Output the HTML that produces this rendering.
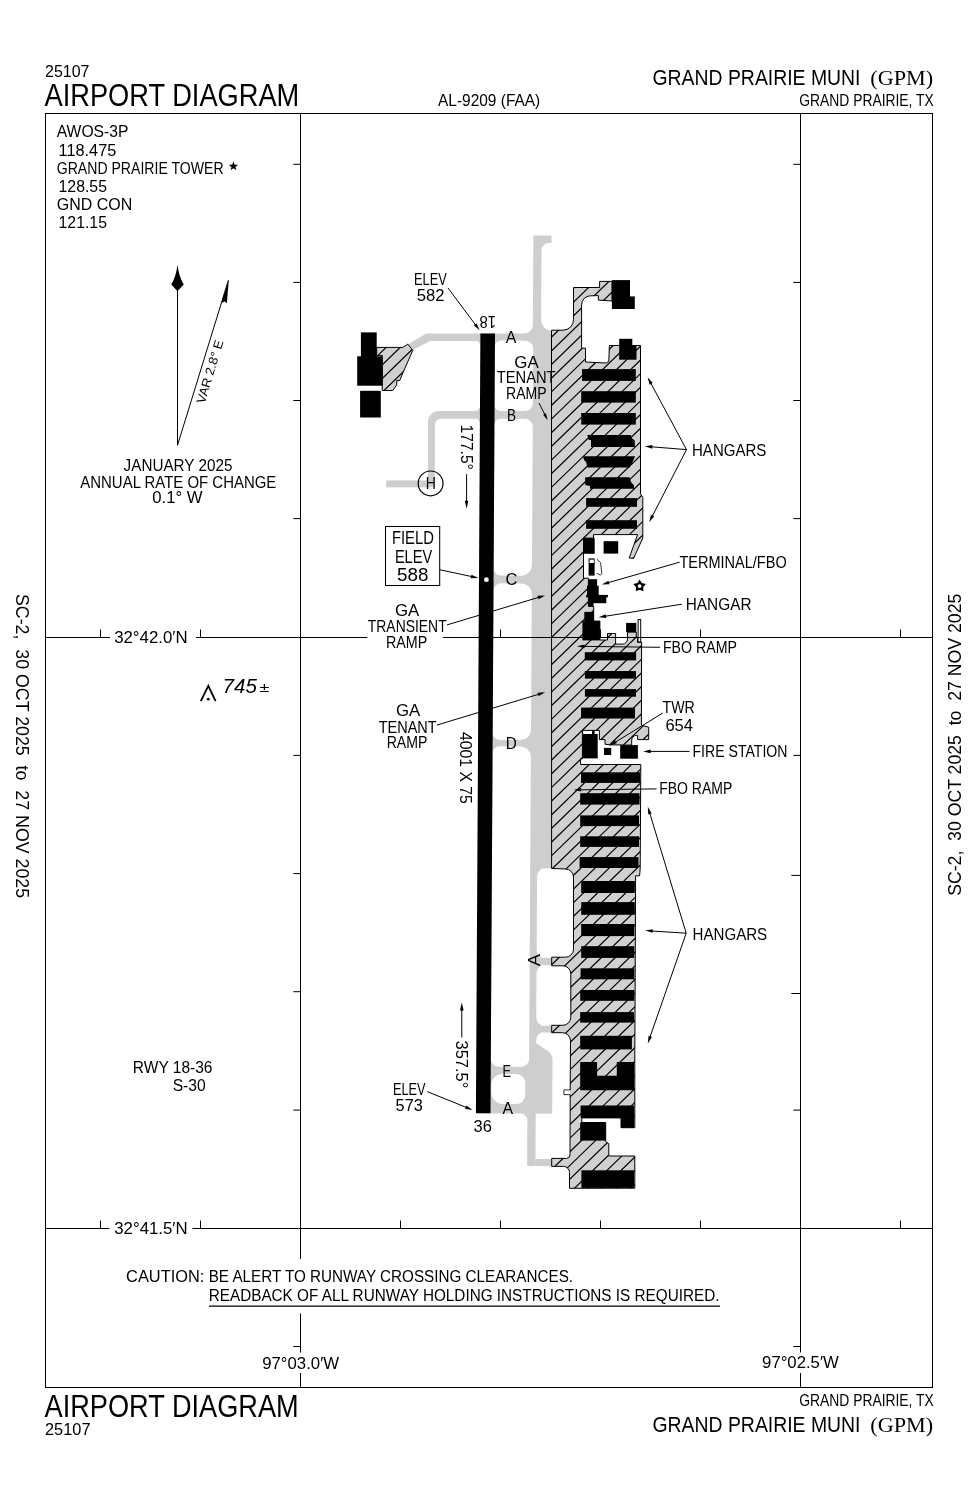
<!DOCTYPE html>
<html><head><meta charset="utf-8"><title>GRAND PRAIRIE MUNI (GPM) Airport Diagram</title>
<style>
html,body{margin:0;padding:0;background:#fff;}
body{width:978px;height:1500px;overflow:hidden;font-family:"Liberation Sans",sans-serif;}
svg{display:block;will-change:transform;}
svg text{font-family:"Liberation Sans",sans-serif;fill:#000;}
</style></head><body>
<svg width="978" height="1500" viewBox="0 0 978 1500">
<rect x="0" y="0" width="978" height="1500" fill="#fff"/>
<g id="twy">
<path d="M482,333.4 L426.2,333.4 L408.6,344.1 L413.2,350.1 L430.0,340.9 L482,340.9 Z" fill="#cecece"/>
<path d="M481,340.7 L475.2,340.7 A5.2,5.2 0 0 1 480.4,345.9 L481,345.9 Z" fill="#cecece"/>
<path d="M482,411 L439,411 A11,11 0 0 0 428,422 L428,487.3 L434.9,487.3 L434.9,424.7 A6,6 0 0 1 440.9,418.7 L482,418.7 Z" fill="#cecece"/>
<path d="M481,418.5 L474.8,418.5 A5.2,5.2 0 0 1 480,423.7 L481,423.7 Z" fill="#cecece"/>
<path d="M481,411.2 L481,405.8 L480,405.8 A5.2,5.2 0 0 1 474.8,411 L474.8,411.2 Z" fill="#cecece"/>
<rect x="386.20" y="480.40" width="43.80" height="6.90" fill="#cecece"/>
<path d="M484,333.6 L551.5,333.6 L551.5,868.4 L541,868.4 L541,1113.4 L484,1113.4 Z" fill="#cecece"/>
<g transform="rotate(0.33 495 333.5)">
<path d="M532.8,235.3 L551,235.3 L551,242.8 L548.2,242.8 A7.2,7.2 0 0 0 541.0,250 L541.0,319.5 A11.2,11.2 0 0 0 552.2,330.4 L553,330.4 L553,336 L532.8,336 Z" fill="#cecece"/>
<path d="M533.2,334 L533.2,323.2 A10.6,10.6 0 0 1 522.6,333.8 L522.6,334 Z" fill="#cecece"/>
<path d="M500.90,340.50 L525.30,340.50 A8,8 0 0 1 533.30,348.50 L533.30,402.90 A8,8 0 0 1 525.30,410.90 L500.90,410.90 A6,6 0 0 1 494.90,404.90 L494.90,346.50 A6,6 0 0 1 500.90,340.50 Z" fill="#fff"/>
<path d="M500.90,418.70 L525.30,418.70 A8,8 0 0 1 533.30,426.70 L533.30,565.00 A10.5,10.5 0 0 1 522.80,575.50 L502.40,575.50 A7.5,7.5 0 0 1 494.90,568.00 L494.90,424.70 A6,6 0 0 1 500.90,418.70 Z" fill="#fff"/>
<path d="M502.40,583.30 L522.80,583.30 A10.5,10.5 0 0 1 533.30,593.80 L533.30,729.40 A10.5,10.5 0 0 1 522.80,739.90 L501.90,739.90 A7,7 0 0 1 494.90,732.90 L494.90,590.80 A7.5,7.5 0 0 1 502.40,583.30 Z" fill="#fff"/>
<path d="M501.90,746.30 L522.80,746.30 A10.5,10.5 0 0 1 533.30,756.80 L533.30,1058.70 A8,8 0 0 1 525.30,1066.70 L502.90,1066.70 A8,8 0 0 1 494.90,1058.70 L494.90,753.30 A7,7 0 0 1 501.90,746.30 Z" fill="#fff"/>
<path d="M506.60,1073.90 L520.60,1073.90 A9,9 0 0 1 529.60,1082.90 L529.60,1094.90 A9,9 0 0 1 520.60,1103.90 L507.60,1103.90 A12,12 0 0 1 495.60,1091.90 L495.60,1084.90 A11,11 0 0 1 506.60,1073.90 Z" fill="#fff"/>
<path d="M547.70,868.40 L578.00,868.40 A0,0 0 0 1 578.00,868.40 L578.00,957.40 A0,0 0 0 1 578.00,957.40 L548.20,957.40 A8,8 0 0 1 540.20,949.40 L540.20,875.90 A7.5,7.5 0 0 1 547.70,868.40 Z" fill="#fff"/>
<path d="M548.20,965.00 L575.00,965.00 A0,0 0 0 1 575.00,965.00 L575.00,1025.40 A0,0 0 0 1 575.00,1025.40 L548.20,1025.40 A8,8 0 0 1 540.20,1017.40 L540.20,973.00 A8,8 0 0 1 548.20,965.00 Z" fill="#fff"/>
<path d="M548.20,1032.00 L575.00,1032.00 A0,0 0 0 1 575.00,1032.00 L575.00,1158.60 A0,0 0 0 1 575.00,1158.60 L547.20,1158.60 A7,7 0 0 1 540.20,1151.60 L540.20,1040.00 A8,8 0 0 1 548.20,1032.00 Z" fill="#fff"/>
<path d="M531.9,1110 L540.2,1110 L540.2,1165.8 L531.9,1165.8 Z" fill="#cecece"/>
<path d="M539.4,1042.4 L550,1049.5 Q556.7,1053 556.7,1059.5 L556.7,1113.4 L539.4,1113.4 Z" fill="#cecece"/>
<path d="M524,1113.2 L532.2,1113.2 L532.2,1121 A8,8 0 0 0 524,1113.2 Z" fill="#cecece"/>
<rect x="540.00" y="957.60" width="16.50" height="7.40" fill="#cecece"/>
<rect x="540.00" y="1025.40" width="16.80" height="6.80" fill="#cecece"/>
<rect x="540.00" y="1158.70" width="17.60" height="7.10" fill="#cecece"/>
</g>
</g>
<defs>
<clipPath id="rampclip"><path d="M551.5,330.2 L563,330.2 A10.5,10.5 0 0 0 573.5,319.7 L573.5,287.5 L599.6,287.5 L599.6,281.4 L612,281.4 L612,301 L598.4,300.1 L598.4,295.6 L590.6,295.8 A9,9 0 0 0 581.6,304.8 L581.6,348.2 L585.5,348.2 L585.5,362 L606.3,363 L608.8,361.4 L609.4,345.5 L640.5,345.5 L640.5,493.8 L642.8,497.5 L642.8,538 L633.6,558.4 L629.2,558 L637.6,534.6 L593.5,534.6 L593.5,538.1 L583.5,538.1 L583.5,578.2 L588.4,578.2 L588.4,606.4 L593.7,606.4 L593.7,621.1 L599.9,621.1 L599.9,640 L607.5,640 L607.5,633.5 L615.6,633.5 L615.6,644.1 L622.5,644.1 A5,5 0 0 0 627.5,639.1 L627.5,632.1 L636.3,632.1 L636.3,637.2 L637.6,637.2 L637.6,642.3 L641.6,642.3 L641.4,725.2 L648.7,727.2 L648.7,739.6 L637.6,739.6 L637.6,735.4 L636.4,735.4 A4.7,4.7 0 0 0 631.7,740.1 L631.7,745.1 L609.6,744.8 L605,744.2 L605,739.6 L599.4,739.6 L599.4,730.4 L582.4,730.4 L582.4,758.9 L580.6,758.9 L580.6,764.5 L640.8,764.5 L640.2,868 L639.6,875.8 L635.6,875.8 L634.9,1035 L634.8,1049.5 L634.8,1127.7 L621,1127.7 L621,1117.9 L581.8,1117.9 L581.8,1122.5 L605.7,1122.5 L605.7,1141.5 L608.8,1143.7 L608.8,1156 L634.8,1156 L634.8,1188.2 L569.5,1188.3 L569.5,1172.4 A6,6 0 0 0 563.5,1166.4 L551.7,1166.4 L551.7,1158.4 L566.5,1158.4 A3.5,3.5 0 0 0 570,1154.9 L570.2,1094.6 L564,1094.6 L564,1090 L570.2,1090 L570.5,1040.7 A8,8 0 0 0 562.5,1032.7 L551.7,1032.7 L551.7,1025.3 L562.8,1025.3 A8,8 0 0 0 570.8,1017.3 L570.8,973.8 A8,8 0 0 0 562.8,965.8 L551.7,965.8 L551.7,957.2 L565.5,957.2 A8,8 0 0 0 573.5,949.2 L573.5,877 A8,8 0 0 0 565.5,869 L551.6,868.4 Z"/><path d="M376.7,347.4 L402.9,347.4 L407.8,344.1 L412.8,350.3 L402.9,372.9 L399.7,380.5 L396.7,380.5 L396.7,384.8 L392.8,390.5 L382.2,390.5 L382.2,355.4 L376.7,355.8 Z"/></clipPath>
</defs>
<g id="ramp">
<path d="M551.5,330.2 L563,330.2 A10.5,10.5 0 0 0 573.5,319.7 L573.5,287.5 L599.6,287.5 L599.6,281.4 L612,281.4 L612,301 L598.4,300.1 L598.4,295.6 L590.6,295.8 A9,9 0 0 0 581.6,304.8 L581.6,348.2 L585.5,348.2 L585.5,362 L606.3,363 L608.8,361.4 L609.4,345.5 L640.5,345.5 L640.5,493.8 L642.8,497.5 L642.8,538 L633.6,558.4 L629.2,558 L637.6,534.6 L593.5,534.6 L593.5,538.1 L583.5,538.1 L583.5,578.2 L588.4,578.2 L588.4,606.4 L593.7,606.4 L593.7,621.1 L599.9,621.1 L599.9,640 L607.5,640 L607.5,633.5 L615.6,633.5 L615.6,644.1 L622.5,644.1 A5,5 0 0 0 627.5,639.1 L627.5,632.1 L636.3,632.1 L636.3,637.2 L637.6,637.2 L637.6,642.3 L641.6,642.3 L641.4,725.2 L648.7,727.2 L648.7,739.6 L637.6,739.6 L637.6,735.4 L636.4,735.4 A4.7,4.7 0 0 0 631.7,740.1 L631.7,745.1 L609.6,744.8 L605,744.2 L605,739.6 L599.4,739.6 L599.4,730.4 L582.4,730.4 L582.4,758.9 L580.6,758.9 L580.6,764.5 L640.8,764.5 L640.2,868 L639.6,875.8 L635.6,875.8 L634.9,1035 L634.8,1049.5 L634.8,1127.7 L621,1127.7 L621,1117.9 L581.8,1117.9 L581.8,1122.5 L605.7,1122.5 L605.7,1141.5 L608.8,1143.7 L608.8,1156 L634.8,1156 L634.8,1188.2 L569.5,1188.3 L569.5,1172.4 A6,6 0 0 0 563.5,1166.4 L551.7,1166.4 L551.7,1158.4 L566.5,1158.4 A3.5,3.5 0 0 0 570,1154.9 L570.2,1094.6 L564,1094.6 L564,1090 L570.2,1090 L570.5,1040.7 A8,8 0 0 0 562.5,1032.7 L551.7,1032.7 L551.7,1025.3 L562.8,1025.3 A8,8 0 0 0 570.8,1017.3 L570.8,973.8 A8,8 0 0 0 562.8,965.8 L551.7,965.8 L551.7,957.2 L565.5,957.2 A8,8 0 0 0 573.5,949.2 L573.5,877 A8,8 0 0 0 565.5,869 L551.6,868.4 Z" fill="#d0d0d0"/>
<path d="M376.7,347.4 L402.9,347.4 L407.8,344.1 L412.8,350.3 L402.9,372.9 L399.7,380.5 L396.7,380.5 L396.7,384.8 L392.8,390.5 L382.2,390.5 L382.2,355.4 L376.7,355.8 Z" fill="#d0d0d0"/>
<path d="M370.0,281.22 L660.0,-0.08 M370.0,294.87 L660.0,13.57 M370.0,308.51 L660.0,27.21 M370.0,322.16 L660.0,40.86 M370.0,335.81 L660.0,54.51 M370.0,349.46 L660.0,68.16 M370.0,363.10 L660.0,81.80 M370.0,376.75 L660.0,95.45 M370.0,390.40 L660.0,109.10 M370.0,404.04 L660.0,122.74 M370.0,417.69 L660.0,136.39 M370.0,431.34 L660.0,150.04 M370.0,444.98 L660.0,163.68 M370.0,458.63 L660.0,177.33 M370.0,472.28 L660.0,190.98 M370.0,485.93 L660.0,204.63 M370.0,499.57 L660.0,218.27 M370.0,513.22 L660.0,231.92 M370.0,526.87 L660.0,245.57 M370.0,540.51 L660.0,259.21 M370.0,554.16 L660.0,272.86 M370.0,567.81 L660.0,286.51 M370.0,581.45 L660.0,300.15 M370.0,595.10 L660.0,313.80 M370.0,608.75 L660.0,327.45 M370.0,622.40 L660.0,341.10 M370.0,636.04 L660.0,354.74 M370.0,649.69 L660.0,368.39 M370.0,663.34 L660.0,382.04 M370.0,676.98 L660.0,395.68 M370.0,690.63 L660.0,409.33 M370.0,704.28 L660.0,422.98 M370.0,717.92 L660.0,436.62 M370.0,731.57 L660.0,450.27 M370.0,745.22 L660.0,463.92 M370.0,758.87 L660.0,477.57 M370.0,772.51 L660.0,491.21 M370.0,786.16 L660.0,504.86 M370.0,799.81 L660.0,518.51 M370.0,813.45 L660.0,532.15 M370.0,827.10 L660.0,545.80 M370.0,840.75 L660.0,559.45 M370.0,854.39 L660.0,573.09 M370.0,868.04 L660.0,586.74 M370.0,881.69 L660.0,600.39 M370.0,895.34 L660.0,614.04 M370.0,908.98 L660.0,627.68 M370.0,922.63 L660.0,641.33 M370.0,936.28 L660.0,654.98 M370.0,949.92 L660.0,668.62 M370.0,963.57 L660.0,682.27 M370.0,977.22 L660.0,695.92 M370.0,990.86 L660.0,709.56 M370.0,1004.51 L660.0,723.21 M370.0,1018.16 L660.0,736.86 M370.0,1031.81 L660.0,750.51 M370.0,1045.45 L660.0,764.15 M370.0,1059.10 L660.0,777.80 M370.0,1072.75 L660.0,791.45 M370.0,1086.39 L660.0,805.09 M370.0,1100.04 L660.0,818.74 M370.0,1113.69 L660.0,832.39 M370.0,1127.33 L660.0,846.03 M370.0,1140.98 L660.0,859.68 M370.0,1154.63 L660.0,873.33 M370.0,1168.28 L660.0,886.98 M370.0,1181.92 L660.0,900.62 M370.0,1195.57 L660.0,914.27 M370.0,1209.22 L660.0,927.92 M370.0,1222.86 L660.0,941.56 M370.0,1236.51 L660.0,955.21 M370.0,1250.16 L660.0,968.86 M370.0,1263.80 L660.0,982.50 M370.0,1277.45 L660.0,996.15 M370.0,1291.10 L660.0,1009.80 M370.0,1304.75 L660.0,1023.45 M370.0,1318.39 L660.0,1037.09 M370.0,1332.04 L660.0,1050.74 M370.0,1345.69 L660.0,1064.39 M370.0,1359.33 L660.0,1078.03 M370.0,1372.98 L660.0,1091.68 M370.0,1386.63 L660.0,1105.33 M370.0,1400.27 L660.0,1118.97 M370.0,1413.92 L660.0,1132.62 M370.0,1427.57 L660.0,1146.27 M370.0,1441.22 L660.0,1159.92 M370.0,1454.86 L660.0,1173.56 M370.0,1468.51 L660.0,1187.21" stroke="#000" stroke-width="1.2" fill="none" clip-path="url(#rampclip)"/>
<path d="M551.5,330.2 L563,330.2 A10.5,10.5 0 0 0 573.5,319.7 L573.5,287.5 L599.6,287.5 L599.6,281.4 L612,281.4 L612,301 L598.4,300.1 L598.4,295.6 L590.6,295.8 A9,9 0 0 0 581.6,304.8 L581.6,348.2 L585.5,348.2 L585.5,362 L606.3,363 L608.8,361.4 L609.4,345.5 L640.5,345.5 L640.5,493.8 L642.8,497.5 L642.8,538 L633.6,558.4 L629.2,558 L637.6,534.6 L593.5,534.6 L593.5,538.1 L583.5,538.1 L583.5,578.2 L588.4,578.2 L588.4,606.4 L593.7,606.4 L593.7,621.1 L599.9,621.1 L599.9,640 L607.5,640 L607.5,633.5 L615.6,633.5 L615.6,644.1 L622.5,644.1 A5,5 0 0 0 627.5,639.1 L627.5,632.1 L636.3,632.1 L636.3,637.2 L637.6,637.2 L637.6,642.3 L641.6,642.3 L641.4,725.2 L648.7,727.2 L648.7,739.6 L637.6,739.6 L637.6,735.4 L636.4,735.4 A4.7,4.7 0 0 0 631.7,740.1 L631.7,745.1 L609.6,744.8 L605,744.2 L605,739.6 L599.4,739.6 L599.4,730.4 L582.4,730.4 L582.4,758.9 L580.6,758.9 L580.6,764.5 L640.8,764.5 L640.2,868 L639.6,875.8 L635.6,875.8 L634.9,1035 L634.8,1049.5 L634.8,1127.7 L621,1127.7 L621,1117.9 L581.8,1117.9 L581.8,1122.5 L605.7,1122.5 L605.7,1141.5 L608.8,1143.7 L608.8,1156 L634.8,1156 L634.8,1188.2 L569.5,1188.3 L569.5,1172.4 A6,6 0 0 0 563.5,1166.4 L551.7,1166.4 L551.7,1158.4 L566.5,1158.4 A3.5,3.5 0 0 0 570,1154.9 L570.2,1094.6 L564,1094.6 L564,1090 L570.2,1090 L570.5,1040.7 A8,8 0 0 0 562.5,1032.7 L551.7,1032.7 L551.7,1025.3 L562.8,1025.3 A8,8 0 0 0 570.8,1017.3 L570.8,973.8 A8,8 0 0 0 562.8,965.8 L551.7,965.8 L551.7,957.2 L565.5,957.2 A8,8 0 0 0 573.5,949.2 L573.5,877 A8,8 0 0 0 565.5,869 L551.6,868.4 Z" fill="none" stroke="#000" stroke-width="1" stroke-linejoin="miter"/>
<path d="M376.7,347.4 L402.9,347.4 L407.8,344.1 L412.8,350.3 L402.9,372.9 L399.7,380.5 L396.7,380.5 L396.7,384.8 L392.8,390.5 L382.2,390.5 L382.2,355.4 L376.7,355.8 Z" fill="none" stroke="#000" stroke-width="1" stroke-linejoin="miter"/>
</g>
<g id="bld" fill="#000">
<rect x="360.90" y="332.40" width="15.80" height="24.90"/>
<rect x="357.20" y="356.30" width="25.50" height="29.40"/>
<rect x="360.10" y="390.80" width="20.70" height="26.70"/>
<rect x="611.90" y="280.10" width="18.10" height="17.50"/>
<rect x="611.90" y="296.40" width="22.90" height="12.60"/>
<rect x="619.20" y="338.80" width="13.10" height="7.20"/>
<rect x="619.20" y="345.50" width="17.30" height="14.20"/>
<rect x="582.00" y="369.10" width="53.80" height="11.80"/>
<rect x="581.20" y="391.20" width="54.60" height="11.40"/>
<rect x="581.20" y="413.00" width="54.60" height="11.60"/>
<polygon points="587.30,435.00 630.90,435.00 631.60,438.00 634.80,440.50 634.80,447.00 591.00,447.00 591.00,440.00 588.80,440.00"/>
<polygon points="583.00,456.20 635.20,456.20 632.50,462.00 629.60,467.40 587.60,467.40 586.00,462.00 584.00,460.00"/>
<polygon points="585.20,477.20 629.60,477.20 631.00,482.00 634.00,485.50 634.00,488.70 590.00,488.70 590.00,486.00 585.20,485.00"/>
<rect x="586.10" y="498.10" width="50.90" height="8.70"/>
<rect x="586.10" y="520.20" width="50.90" height="8.60"/>
<rect x="583.30" y="538.10" width="11.40" height="15.70"/>
<rect x="603.60" y="541.20" width="14.60" height="12.40"/>
<rect x="588.40" y="579.20" width="8.70" height="7.60"/>
<rect x="587.00" y="585.70" width="11.70" height="10.20"/>
<rect x="586.10" y="594.90" width="21.80" height="2.50"/>
<rect x="588.40" y="596.70" width="17.90" height="6.50"/>
<rect x="588.40" y="602.50" width="5.10" height="3.90"/>
<rect x="584.30" y="611.90" width="9.60" height="10.10"/>
<rect x="582.40" y="621.10" width="17.50" height="19.30"/>
<rect x="626.10" y="622.90" width="10.20" height="9.20"/>
<rect x="584.80" y="652.20" width="51.30" height="8.20"/>
<rect x="584.90" y="671.00" width="51.10" height="7.60"/>
<rect x="584.90" y="689.10" width="51.10" height="7.60"/>
<rect x="581.00" y="707.60" width="54.00" height="10.90"/>
<rect x="582.40" y="734.00" width="15.30" height="24.40"/>
<rect x="604.00" y="747.90" width="7.20" height="7.10"/>
<rect x="620.20" y="745.10" width="17.70" height="13.60"/>
<rect x="581.00" y="772.30" width="59.00" height="10.60"/>
<rect x="580.20" y="793.20" width="59.30" height="11.40"/>
<rect x="580.20" y="815.40" width="58.80" height="10.70"/>
<rect x="580.20" y="836.30" width="58.80" height="10.60"/>
<rect x="579.60" y="857.10" width="58.90" height="10.90"/>
<rect x="581.20" y="881.00" width="53.60" height="12.00"/>
<rect x="581.20" y="902.10" width="53.60" height="12.70"/>
<rect x="581.20" y="924.00" width="53.10" height="12.10"/>
<rect x="581.20" y="946.20" width="53.10" height="11.70"/>
<rect x="580.60" y="968.30" width="53.70" height="11.00"/>
<rect x="580.20" y="990.00" width="54.10" height="10.80"/>
<rect x="580.20" y="1012.10" width="53.80" height="10.50"/>
<rect x="580.20" y="1035.80" width="51.70" height="13.60"/>
<polygon points="580.20,1062.10 597.10,1062.10 597.10,1075.80 616.80,1075.80 616.80,1062.10 634.00,1062.10 634.00,1090.30 580.20,1090.30"/>
<polygon points="580.60,1105.40 634.00,1105.40 634.00,1127.70 621.00,1127.70 621.00,1117.90 580.60,1117.90"/>
<rect x="580.20" y="1122.50" width="25.50" height="18.10"/>
<rect x="581.40" y="1170.30" width="52.60" height="17.60"/>
</g>
<g id="det">
<rect x="564.5" y="1090.5" width="5.3" height="3.7" fill="#fff"/>
<rect x="638.1" y="619.6" width="2.6" height="22.4" fill="#fff" stroke="#000" stroke-width="1"/>
<rect x="588.6" y="558.4" width="6.0" height="17.2" fill="#000"/>
<rect x="589.6" y="559.6" width="4.2" height="3.4" fill="#fff"/>
<path d="M596.9,559.2 L600.6,562.6 L601.8,573.6 L600.4,575.2 L596.9,573.2" fill="none" stroke="#000" stroke-width="0.8"/>
<rect x="583.2" y="731.0" width="8.8" height="3.0" fill="#fff"/>
<rect x="594.6" y="731.0" width="4.4" height="3.0" fill="#fff"/>
<rect x="592.0" y="731.0" width="2.6" height="3.2" fill="#000"/>
</g>
<g transform="rotate(0.33 495 333.5)">
<rect x="480.4" y="333.5" width="14.6" height="779.8" fill="#000"/>
</g>
<g id="frame">
<rect x="45.5" y="113.5" width="887" height="1274" fill="none" stroke="#000" stroke-width="1"/>
<line x1="300.50" y1="113.50" x2="300.50" y2="1259.00" stroke="#000" stroke-width="1"/>
<line x1="300.50" y1="1313.50" x2="300.50" y2="1352.50" stroke="#000" stroke-width="1"/>
<line x1="300.50" y1="1373.00" x2="300.50" y2="1387.50" stroke="#000" stroke-width="1"/>
<line x1="800.50" y1="113.50" x2="800.50" y2="1352.50" stroke="#000" stroke-width="1"/>
<line x1="800.50" y1="1373.00" x2="800.50" y2="1387.50" stroke="#000" stroke-width="1"/>
<line x1="45.50" y1="637.50" x2="110.00" y2="637.50" stroke="#000" stroke-width="1"/>
<line x1="196.00" y1="637.50" x2="367.30" y2="637.50" stroke="#000" stroke-width="1"/>
<line x1="443.00" y1="637.50" x2="932.50" y2="637.50" stroke="#000" stroke-width="1"/>
<line x1="45.50" y1="1228.50" x2="109.50" y2="1228.50" stroke="#000" stroke-width="1"/>
<line x1="192.50" y1="1228.50" x2="932.50" y2="1228.50" stroke="#000" stroke-width="1"/>
<line x1="293.30" y1="164.30" x2="300.50" y2="164.30" stroke="#000" stroke-width="1"/>
<line x1="293.30" y1="282.40" x2="300.50" y2="282.40" stroke="#000" stroke-width="1"/>
<line x1="293.30" y1="400.50" x2="300.50" y2="400.50" stroke="#000" stroke-width="1"/>
<line x1="293.30" y1="518.60" x2="300.50" y2="518.60" stroke="#000" stroke-width="1"/>
<line x1="293.30" y1="755.40" x2="300.50" y2="755.40" stroke="#000" stroke-width="1"/>
<line x1="293.30" y1="873.60" x2="300.50" y2="873.60" stroke="#000" stroke-width="1"/>
<line x1="293.30" y1="991.70" x2="300.50" y2="991.70" stroke="#000" stroke-width="1"/>
<line x1="293.30" y1="1110.10" x2="300.50" y2="1110.10" stroke="#000" stroke-width="1"/>
<line x1="293.30" y1="1346.50" x2="300.50" y2="1346.50" stroke="#000" stroke-width="1"/>
<line x1="793.30" y1="164.30" x2="800.50" y2="164.30" stroke="#000" stroke-width="1"/>
<line x1="793.30" y1="282.40" x2="800.50" y2="282.40" stroke="#000" stroke-width="1"/>
<line x1="793.30" y1="400.50" x2="800.50" y2="400.50" stroke="#000" stroke-width="1"/>
<line x1="793.30" y1="518.60" x2="800.50" y2="518.60" stroke="#000" stroke-width="1"/>
<line x1="793.30" y1="755.40" x2="800.50" y2="755.40" stroke="#000" stroke-width="1"/>
<line x1="793.30" y1="1110.10" x2="800.50" y2="1110.10" stroke="#000" stroke-width="1"/>
<line x1="793.30" y1="1346.50" x2="800.50" y2="1346.50" stroke="#000" stroke-width="1"/>
<line x1="791.30" y1="875.40" x2="800.50" y2="875.40" stroke="#000" stroke-width="1"/>
<line x1="791.30" y1="993.50" x2="800.50" y2="993.50" stroke="#000" stroke-width="1"/>
<line x1="100.50" y1="629.50" x2="100.50" y2="637.50" stroke="#000" stroke-width="1"/>
<line x1="200.50" y1="629.50" x2="200.50" y2="637.50" stroke="#000" stroke-width="1"/>
<line x1="500.50" y1="629.50" x2="500.50" y2="637.50" stroke="#000" stroke-width="1"/>
<line x1="600.50" y1="629.50" x2="600.50" y2="637.50" stroke="#000" stroke-width="1"/>
<line x1="700.50" y1="629.50" x2="700.50" y2="637.50" stroke="#000" stroke-width="1"/>
<line x1="900.50" y1="629.50" x2="900.50" y2="637.50" stroke="#000" stroke-width="1"/>
<line x1="100.50" y1="1220.50" x2="100.50" y2="1228.50" stroke="#000" stroke-width="1"/>
<line x1="200.50" y1="1220.50" x2="200.50" y2="1228.50" stroke="#000" stroke-width="1"/>
<line x1="400.50" y1="1220.50" x2="400.50" y2="1228.50" stroke="#000" stroke-width="1"/>
<line x1="500.50" y1="1220.50" x2="500.50" y2="1228.50" stroke="#000" stroke-width="1"/>
<line x1="600.50" y1="1220.50" x2="600.50" y2="1228.50" stroke="#000" stroke-width="1"/>
<line x1="700.50" y1="1220.50" x2="700.50" y2="1228.50" stroke="#000" stroke-width="1"/>
<line x1="900.50" y1="1220.50" x2="900.50" y2="1228.50" stroke="#000" stroke-width="1"/>
</g>
<g id="hdr">
<text x="45.00" y="77.00" font-size="16.6" textLength="44.49" lengthAdjust="spacingAndGlyphs">25107</text>
<text x="44.55" y="105.70" font-size="31.5" textLength="254.69" lengthAdjust="spacingAndGlyphs">AIRPORT DIAGRAM</text>
<text x="438.03" y="105.60" font-size="16.2" textLength="102.24" lengthAdjust="spacingAndGlyphs">AL-9209 (FAA)</text>
<text x="652.52" y="84.60" font-size="22" textLength="207.96" lengthAdjust="spacingAndGlyphs">GRAND PRAIRIE MUNI</text>
<text x="870.36" y="84.60" font-size="22" textLength="62.88" lengthAdjust="spacingAndGlyphs" style='font-family:"Liberation Serif", serif'>(GPM)</text>
<text x="799.23" y="105.70" font-size="16.2" textLength="134.54" lengthAdjust="spacingAndGlyphs">GRAND PRAIRIE, TX</text>
<text x="44.55" y="1416.70" font-size="31.5" textLength="254.19" lengthAdjust="spacingAndGlyphs">AIRPORT DIAGRAM</text>
<text x="45.00" y="1435.10" font-size="16.6" textLength="45.49" lengthAdjust="spacingAndGlyphs">25107</text>
<text x="799.23" y="1406.20" font-size="16.2" textLength="134.54" lengthAdjust="spacingAndGlyphs">GRAND PRAIRIE, TX</text>
<text x="652.52" y="1431.60" font-size="22" textLength="207.96" lengthAdjust="spacingAndGlyphs">GRAND PRAIRIE MUNI</text>
<text x="870.36" y="1431.60" font-size="22" textLength="62.88" lengthAdjust="spacingAndGlyphs" style='font-family:"Liberation Serif", serif'>(GPM)</text>
</g>
<g id="ltxt">
<text x="56.72" y="137.40" font-size="16.4" textLength="71.77" lengthAdjust="spacingAndGlyphs">AWOS-3P</text>
<text x="58.52" y="155.80" font-size="16.4" textLength="57.77" lengthAdjust="spacingAndGlyphs">118.475</text>
<text x="56.72" y="173.70" font-size="16.4" textLength="166.87" lengthAdjust="spacingAndGlyphs">GRAND PRAIRIE TOWER</text>
<polygon points="233.40,161.30 234.58,164.68 238.16,164.75 235.30,166.92 236.34,170.35 233.40,168.30 230.46,170.35 231.50,166.92 228.64,164.75 232.22,164.68" fill="#000"/>
<text x="58.52" y="191.80" font-size="16.4" textLength="48.47" lengthAdjust="spacingAndGlyphs">128.55</text>
<text x="56.72" y="210.00" font-size="16.4" textLength="75.47" lengthAdjust="spacingAndGlyphs">GND CON</text>
<text x="58.52" y="228.40" font-size="16.4" textLength="48.47" lengthAdjust="spacingAndGlyphs">121.15</text>
<line x1="177.50" y1="290.00" x2="177.50" y2="445.30" stroke="#000" stroke-width="1"/>
<path d="M177.5,264.6 Q178.6,276 183.7,284.4 L177.5,291.3 L171.3,284.4 Q176.4,276 177.5,264.6 Z" fill="#000"/>
<line x1="177.50" y1="445.30" x2="228.40" y2="280.20" stroke="#000" stroke-width="1"/>
<polygon points="228.8,279.4 226.9,303.0 224.3,301.6 221.2,303.2" fill="#000"/>
<g transform="translate(204.60,403.50) rotate(-72.87)">
<text x="-0.76" y="0.00" font-size="12.6" textLength="65.51" lengthAdjust="spacingAndGlyphs">VAR 2.8° E</text>
</g>
<text x="123.62" y="471.40" font-size="16.4" textLength="108.77" lengthAdjust="spacingAndGlyphs">JANUARY 2025</text>
<text x="80.32" y="487.80" font-size="16.4" textLength="195.97" lengthAdjust="spacingAndGlyphs">ANNUAL RATE OF CHANGE</text>
<text x="152.22" y="503.30" font-size="16.4" textLength="50.37" lengthAdjust="spacingAndGlyphs">0.1° W</text>
<text x="114.18" y="642.90" font-size="17" textLength="73.44" lengthAdjust="spacingAndGlyphs">32°42.0′N</text>
<text x="114.28" y="1233.90" font-size="17" textLength="73.34" lengthAdjust="spacingAndGlyphs">32°41.5′N</text>
<text x="262.18" y="1368.60" font-size="17" textLength="76.94" lengthAdjust="spacingAndGlyphs">97°03.0′W</text>
<text x="762.08" y="1368.40" font-size="17" textLength="76.74" lengthAdjust="spacingAndGlyphs">97°02.5′W</text>
<polyline points="200.8,701.2 208.3,685.8 215.6,701.2" fill="none" stroke="#000" stroke-width="1.8" stroke-linejoin="miter"/>
<circle cx="208.2" cy="699.2" r="1.35" fill="#000"/>
<text x="222.64" y="692.70" font-size="19.3" textLength="34.32" lengthAdjust="spacingAndGlyphs" font-style="italic">745</text>
<text x="259.42" y="691.60" font-size="13" textLength="9.76" lengthAdjust="spacingAndGlyphs">±</text>
<text x="132.79" y="1072.70" font-size="16.8" textLength="79.72" lengthAdjust="spacingAndGlyphs">RWY 18-36</text>
<text x="172.69" y="1091.10" font-size="16.8" textLength="33.02" lengthAdjust="spacingAndGlyphs">S-30</text>
<text x="126.07" y="1281.60" font-size="17.2" textLength="78.26" lengthAdjust="spacingAndGlyphs">CAUTION:</text>
<text x="208.68" y="1281.60" font-size="17.2" textLength="364.43" lengthAdjust="spacingAndGlyphs">BE ALERT TO RUNWAY CROSSING CLEARANCES.</text>
<text x="208.68" y="1300.50" font-size="17.2" textLength="510.83" lengthAdjust="spacingAndGlyphs">READBACK OF ALL RUNWAY HOLDING INSTRUCTIONS IS REQUIRED.</text>
<line x1="209.00" y1="1306.20" x2="720.00" y2="1306.20" stroke="#000" stroke-width="1.3"/>
</g>
<g id="side">
<g transform="translate(15.80,595.00) rotate(90)">
<text x="-1.07" y="0.00" font-size="17.9" textLength="304.15" lengthAdjust="spacingAndGlyphs" xml:space="preserve">SC-2,  30 OCT 2025  to  27 NOV 2025</text>
</g>
<g transform="translate(961.40,894.80) rotate(-90)">
<text x="-1.07" y="0.00" font-size="17.9" textLength="302.15" lengthAdjust="spacingAndGlyphs" xml:space="preserve">SC-2,  30 OCT 2025  to  27 NOV 2025</text>
</g>
</g>
<g id="dlab">
<text x="414.02" y="284.60" font-size="16.3" textLength="32.66" lengthAdjust="spacingAndGlyphs">ELEV</text>
<text x="416.72" y="300.60" font-size="16.3" textLength="27.76" lengthAdjust="spacingAndGlyphs">582</text>
<line x1="448.00" y1="288.00" x2="475.71" y2="325.09" stroke="#000" stroke-width="1.0"/>
<polygon points="479.60,330.30 473.67,325.37 476.55,323.21" fill="#000"/>
<g transform="translate(495.00,315.50) rotate(180)">
<text x="-0.98" y="0.00" font-size="16.3" textLength="16.56" lengthAdjust="spacingAndGlyphs">18</text>
</g>
<text x="505.80" y="342.80" font-size="16.3" textLength="10.60" lengthAdjust="spacingAndGlyphs">A</text>
<text x="507.02" y="420.50" font-size="16.3" textLength="9.06" lengthAdjust="spacingAndGlyphs">B</text>
<text x="505.42" y="585.20" font-size="16.3" textLength="11.86" lengthAdjust="spacingAndGlyphs">C</text>
<text x="505.72" y="749.20" font-size="16.3" textLength="11.06" lengthAdjust="spacingAndGlyphs">D</text>
<text x="502.62" y="1076.70" font-size="16.3" textLength="8.56" lengthAdjust="spacingAndGlyphs">E</text>
<text x="502.40" y="1114.00" font-size="16.3" textLength="10.60" lengthAdjust="spacingAndGlyphs">A</text>
<g transform="translate(539.50,965.20) rotate(-90)">
<text x="-0.98" y="0.00" font-size="16.3" textLength="12.36" lengthAdjust="spacingAndGlyphs">A</text>
</g>
<text x="514.32" y="367.50" font-size="16.4" textLength="24.37" lengthAdjust="spacingAndGlyphs">GA</text>
<text x="496.72" y="383.40" font-size="16.4" textLength="58.87" lengthAdjust="spacingAndGlyphs">TENANT</text>
<text x="506.02" y="399.30" font-size="16.4" textLength="40.67" lengthAdjust="spacingAndGlyphs">RAMP</text>
<line x1="539.00" y1="403.00" x2="544.99" y2="414.85" stroke="#000" stroke-width="1.0"/>
<polygon points="547.70,420.20 543.11,414.68 545.97,413.23" fill="#000"/>
<circle cx="430.6" cy="483.4" r="12.4" fill="none" stroke="#000" stroke-width="1.2"/>
<text x="425.82" y="488.70" font-size="16.3" textLength="10.16" lengthAdjust="spacingAndGlyphs">H</text>
<g transform="translate(460.60,425.60) rotate(90)">
<text x="-1.01" y="0.00" font-size="16.8" textLength="45.22" lengthAdjust="spacingAndGlyphs">177.5°</text>
</g>
<line x1="466.60" y1="474.20" x2="466.60" y2="501.80" stroke="#000" stroke-width="1.0"/>
<polygon points="466.60,508.80 464.80,500.80 468.40,500.80" fill="#000"/>
<rect x="385.5" y="526.5" width="54.2" height="59" fill="#fff" stroke="#000" stroke-width="1.05"/>
<text x="391.90" y="544.10" font-size="18.4" textLength="42.01" lengthAdjust="spacingAndGlyphs">FIELD</text>
<text x="394.90" y="562.60" font-size="18.4" textLength="37.21" lengthAdjust="spacingAndGlyphs">ELEV</text>
<text x="397.10" y="581.00" font-size="18.4" textLength="31.41" lengthAdjust="spacingAndGlyphs">588</text>
<line x1="440.00" y1="569.80" x2="472.04" y2="576.64" stroke="#000" stroke-width="1.0"/>
<polygon points="478.40,578.00 470.69,578.19 471.44,574.67" fill="#000"/>
<circle cx="486.4" cy="579.7" r="2.4" fill="#fff"/>
<text x="395.03" y="615.80" font-size="16.1" textLength="24.33" lengthAdjust="spacingAndGlyphs">GA</text>
<text x="367.83" y="631.60" font-size="16.1" textLength="78.83" lengthAdjust="spacingAndGlyphs">TRANSIENT</text>
<text x="385.93" y="647.70" font-size="16.1" textLength="41.23" lengthAdjust="spacingAndGlyphs">RAMP</text>
<line x1="447.00" y1="624.90" x2="538.97" y2="597.27" stroke="#000" stroke-width="1.0"/>
<polygon points="545.20,595.40 538.53,599.28 537.50,595.83" fill="#000"/>
<text x="395.93" y="716.20" font-size="16.1" textLength="24.33" lengthAdjust="spacingAndGlyphs">GA</text>
<text x="378.63" y="732.50" font-size="16.1" textLength="58.03" lengthAdjust="spacingAndGlyphs">TENANT</text>
<text x="386.63" y="748.30" font-size="16.1" textLength="40.73" lengthAdjust="spacingAndGlyphs">RAMP</text>
<line x1="436.80" y1="725.10" x2="538.98" y2="694.18" stroke="#000" stroke-width="1.0"/>
<polygon points="545.20,692.30 538.54,696.19 537.50,692.75" fill="#000"/>
<g transform="translate(460.20,733.00) rotate(90)">
<text x="-1.02" y="0.00" font-size="17.0" textLength="71.84" lengthAdjust="spacingAndGlyphs">4001 X 75</text>
</g>
<g transform="translate(456.40,1041.60) rotate(90)">
<text x="-1.01" y="0.00" font-size="16.8" textLength="47.62" lengthAdjust="spacingAndGlyphs">357.5°</text>
</g>
<line x1="461.80" y1="1037.50" x2="461.80" y2="1009.40" stroke="#000" stroke-width="1.0"/>
<polygon points="461.80,1002.40 463.60,1010.40 460.00,1010.40" fill="#000"/>
<text x="393.02" y="1095.40" font-size="16.3" textLength="32.56" lengthAdjust="spacingAndGlyphs">ELEV</text>
<text x="395.62" y="1111.30" font-size="16.3" textLength="27.16" lengthAdjust="spacingAndGlyphs">573</text>
<line x1="427.20" y1="1091.60" x2="466.58" y2="1107.56" stroke="#000" stroke-width="1.0"/>
<polygon points="472.60,1110.00 464.97,1108.85 466.33,1105.51" fill="#000"/>
<text x="473.62" y="1131.60" font-size="16.3" textLength="18.36" lengthAdjust="spacingAndGlyphs">36</text>
<text x="692.00" y="456.00" font-size="16.6" textLength="74.39" lengthAdjust="spacingAndGlyphs">HANGARS</text>
<line x1="686.50" y1="449.60" x2="650.68" y2="382.93" stroke="#000" stroke-width="1.0"/>
<polygon points="647.60,377.20 652.74,382.95 649.56,384.66" fill="#000"/>
<line x1="686.50" y1="449.60" x2="651.28" y2="446.81" stroke="#000" stroke-width="1.0"/>
<polygon points="644.80,446.30 652.42,445.10 652.13,448.69" fill="#000"/>
<line x1="686.50" y1="449.60" x2="652.17" y2="516.42" stroke="#000" stroke-width="1.0"/>
<polygon points="649.20,522.20 651.03,514.71 654.23,516.35" fill="#000"/>
<text x="679.42" y="567.90" font-size="16.4" textLength="107.27" lengthAdjust="spacingAndGlyphs">TERMINAL/FBO</text>
<line x1="679.60" y1="562.20" x2="608.05" y2="582.71" stroke="#000" stroke-width="1.0"/>
<polygon points="601.80,584.50 608.51,580.70 609.51,584.16" fill="#000"/>
<polygon points="639.60,579.40 641.77,583.01 645.88,583.96 643.12,587.14 643.48,591.34 639.60,589.70 635.72,591.34 636.08,587.14 633.32,583.96 637.43,583.01" fill="#000"/>
<circle cx="639.6" cy="586.1" r="1.9" fill="#fff"/>
<text x="685.72" y="610.00" font-size="16.4" textLength="65.77" lengthAdjust="spacingAndGlyphs">HANGAR</text>
<line x1="681.80" y1="604.20" x2="605.02" y2="616.29" stroke="#000" stroke-width="1.0"/>
<polygon points="598.60,617.30 605.73,614.36 606.29,617.91" fill="#000"/>
<text x="662.94" y="652.60" font-size="16.0" textLength="74.02" lengthAdjust="spacingAndGlyphs">FBO RAMP</text>
<line x1="659.90" y1="647.30" x2="583.50" y2="646.38" stroke="#000" stroke-width="1.0"/>
<polygon points="577.00,646.30 584.52,644.59 584.48,648.19" fill="#000"/>
<text x="662.53" y="712.90" font-size="16.2" textLength="32.24" lengthAdjust="spacingAndGlyphs">TWR</text>
<text x="665.43" y="730.60" font-size="16.2" textLength="27.54" lengthAdjust="spacingAndGlyphs">654</text>
<line x1="662.80" y1="713.00" x2="615.14" y2="742.30" stroke="#000" stroke-width="1.0"/>
<polygon points="609.60,745.70 615.05,740.24 616.93,743.31" fill="#000"/>
<text x="692.53" y="756.70" font-size="16.2" textLength="94.94" lengthAdjust="spacingAndGlyphs">FIRE STATION</text>
<line x1="689.50" y1="751.40" x2="649.70" y2="751.40" stroke="#000" stroke-width="1.0"/>
<polygon points="643.20,751.40 650.70,749.60 650.70,753.20" fill="#000"/>
<text x="659.14" y="794.40" font-size="16.0" textLength="73.12" lengthAdjust="spacingAndGlyphs">FBO RAMP</text>
<line x1="656.60" y1="788.90" x2="580.10" y2="789.82" stroke="#000" stroke-width="1.0"/>
<polygon points="573.60,789.90 581.08,788.01 581.12,791.61" fill="#000"/>
<text x="692.52" y="940.00" font-size="16.4" textLength="74.67" lengthAdjust="spacingAndGlyphs">HANGARS</text>
<line x1="686.20" y1="933.20" x2="649.69" y2="813.02" stroke="#000" stroke-width="1.0"/>
<polygon points="647.80,806.80 651.70,813.45 648.26,814.50" fill="#000"/>
<line x1="686.20" y1="933.20" x2="651.69" y2="931.01" stroke="#000" stroke-width="1.0"/>
<polygon points="645.20,930.60 652.80,929.28 652.57,932.87" fill="#000"/>
<line x1="686.20" y1="933.20" x2="649.94" y2="1037.26" stroke="#000" stroke-width="1.0"/>
<polygon points="647.80,1043.40 648.57,1035.73 651.97,1036.91" fill="#000"/>
</g>
</svg>
</body></html>
